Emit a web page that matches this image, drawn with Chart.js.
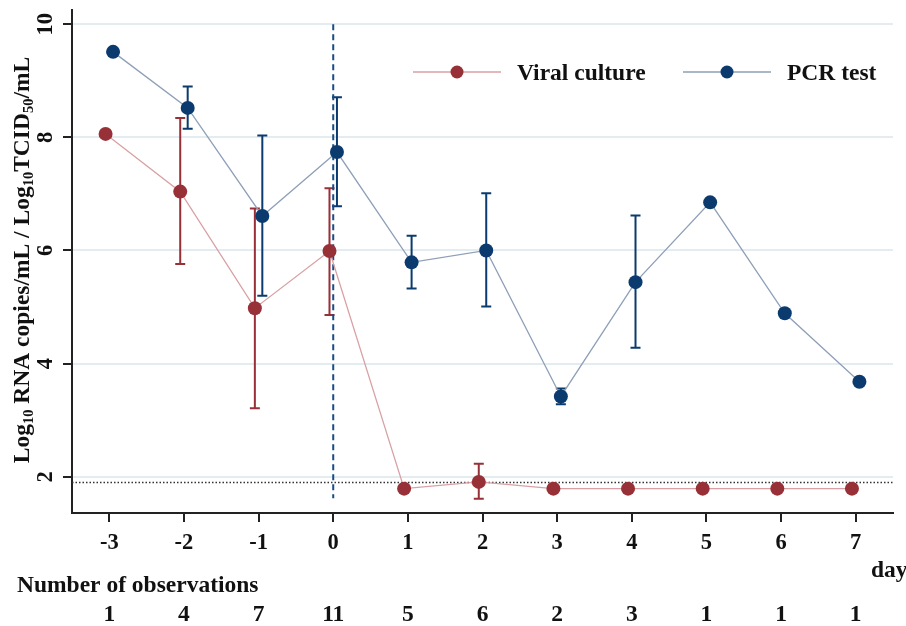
<!DOCTYPE html>
<html lang="en">
<head>
  <meta charset="UTF-8">
  <title>Viral culture vs PCR test</title>
  <style>
    *{margin:0;padding:0;box-sizing:border-box;}
    body{background:#fff;width:906px;height:626px;overflow:hidden;}
    #box{position:relative;width:906px;height:626px;}
  </style>
  <script src="https://cdn.jsdelivr.net/npm/chart.js@4.4.0/dist/chart.umd.min.js"></script>
</head>
<body>
  <div id="box"><canvas id="chart" width="906" height="626"></canvas></div>

  <script>
    // ---- data ----
    const days         = [-3, -2, -1, 0, 1, 2, 3, 4, 5, 6, 7];
    const observations = [1, 4, 7, 11, 5, 6, 2, 3, 1, 1, 1];

    const cultureMean  = [8.06, 7.04, 4.98, 5.99, 1.79, 1.91, 1.79, 1.79, 1.79, 1.79, 1.79];
    const cultureLow   = [null, 5.76, 3.21, 4.86, null, 1.61, null, null, null, null, null];
    const cultureHigh  = [null, 8.34, 6.74, 7.10, null, 2.23, null, null, null, null, null];

    const pcrMean      = [9.51, 8.52, 6.61, 7.74, 5.79, 6.00, 3.42, 5.44, 6.85, 4.89, 3.68];
    const pcrLow       = [null, 8.15, 5.20, 6.78, 5.33, 5.01, 3.28, 4.28, null, null, null];
    const pcrHigh      = [null, 8.90, 8.03, 8.71, 6.26, 7.01, 3.56, 6.62, null, null, null];

    const yTicks = [2, 4, 6, 8, 10];
    const detectionLimit = 1.9;
    const onsetLine = [10, 1.62];   // dashed line at day 0
    const jitter = 0.05;            // the two series are dodged a little around each day

    const SERIF = "'Liberation Serif','Times New Roman',serif";
    const C_RED = "#983038", C_RED_LINE = "#d8a0a4";
    const C_BLUE = "#0b3b6e", C_BLUE_LINE = "#8e9fb7";

    const pts = (vals, dx) => vals.map((v, i) => ({x: days[i] + dx, y: v}));

    // error bars, legend, rotated y labels and the observation row
    const extras = {
      id: "extras",
      beforeDatasetsDraw(chart) {
        const {ctx, scales:{x, y}} = chart;
        chart.data.datasets.forEach(ds => {
          if (!ds.errLow) return;
          ctx.save();
          ctx.strokeStyle = ds.pointBackgroundColor;
          ctx.lineWidth = 2;
          ds.data.forEach((p, i) => {
            if (ds.errLow[i] == null) return;
            const px = x.getPixelForValue(p.x);
            const y1 = y.getPixelForValue(ds.errLow[i]);
            const y2 = y.getPixelForValue(ds.errHigh[i]);
            ctx.beginPath();
            ctx.moveTo(px, y1); ctx.lineTo(px, y2);
            ctx.moveTo(px-5, y1); ctx.lineTo(px+5, y1);
            ctx.moveTo(px-5, y2); ctx.lineTo(px+5, y2);
            ctx.stroke();
          });
          ctx.restore();
        });
      },
      afterDraw(chart) {
        const {ctx, scales:{x, y}} = chart;
        ctx.save();
        ctx.fillStyle = "#111";

        // y tick labels, turned like the original
        ctx.font = "bold 22.5px " + SERIF;
        ctx.textAlign = "center";
        ctx.textBaseline = "middle";
        yTicks.forEach(v => {
          ctx.save();
          ctx.translate(46, y.getPixelForValue(v));
          ctx.rotate(-Math.PI/2);
          ctx.fillText(String(v), 0, 0);
          ctx.restore();
        });

        // y title with subscripts
        const parts = [
          ["Log", 0], ["10", 1], [" RNA copies/mL / Log", 0], ["10", 1],
          ["TCID", 0], ["50", 1], ["/mL", 0]
        ];
        const big = "bold 23.5px " + SERIF, small = "bold 14.5px " + SERIF;
        let total = 0;
        parts.forEach(([t, s]) => { ctx.font = s ? small : big; total += ctx.measureText(t).width; });
        ctx.save();
        ctx.translate(29, 260);
        ctx.rotate(-Math.PI/2);
        ctx.textAlign = "left";
        ctx.textBaseline = "alphabetic";
        let cx = -total / 2;
        parts.forEach(([t, s]) => {
          ctx.font = s ? small : big;
          ctx.fillText(t, cx, s ? 4 : 0);
          cx += ctx.measureText(t).width;
        });
        ctx.restore();

        // legend inside the plot
        const legend = [
          {label: "Viral culture", dot: C_RED, line: C_RED_LINE, x0: 413},
          {label: "PCR test", dot: C_BLUE, line: C_BLUE_LINE, x0: 683}
        ];
        legend.forEach(l => {
          ctx.strokeStyle = l.line; ctx.lineWidth = 1.3;
          ctx.beginPath(); ctx.moveTo(l.x0, 72); ctx.lineTo(l.x0 + 88, 72); ctx.stroke();
          ctx.fillStyle = l.dot;
          ctx.beginPath(); ctx.arc(l.x0 + 44, 72, 6.5, 0, Math.PI*2); ctx.fill();
          ctx.fillStyle = "#111";
          ctx.font = "bold 23.5px " + SERIF;
          ctx.textAlign = "left"; ctx.textBaseline = "alphabetic";
          ctx.fillText(l.label, l.x0 + 104, 80);
        });

        // "day", observation counts
        ctx.fillStyle = "#111";
        ctx.font = "bold 23.5px " + SERIF;
        ctx.textAlign = "left"; ctx.textBaseline = "alphabetic";
        ctx.fillText("day", 871, 577);
        ctx.fillText("Number of observations", 17, 592);
        ctx.textAlign = "center";
        observations.forEach((n, i) => ctx.fillText(String(n), x.getPixelForValue(days[i]), 621));
        ctx.restore();
      }
    };

    const ctx = document.getElementById("chart").getContext("2d");
    new Chart(ctx, {
      type: "line",
      data: {
        datasets: [
          {
            label: "PCR test",
            data: pts(pcrMean, jitter),
            errLow: pcrLow, errHigh: pcrHigh,
            borderColor: C_BLUE_LINE, borderWidth: 1.3,
            pointBackgroundColor: C_BLUE, pointBorderColor: C_BLUE,
            pointRadius: 7, pointBorderWidth: 0, tension: 0, order: 1
          },
          {
            label: "Viral culture",
            data: pts(cultureMean, -jitter),
            errLow: cultureLow, errHigh: cultureHigh,
            borderColor: C_RED_LINE, borderWidth: 1.3,
            pointBackgroundColor: C_RED, pointBorderColor: C_RED,
            pointRadius: 7, pointBorderWidth: 0, tension: 0, order: 2
          },
          {
            label: "day 0",
            data: onsetLine.map(v => ({x: 0, y: v})),
            borderColor: "#1a4b84", borderWidth: 2, borderDash: [6, 4],
            pointRadius: 0, order: 3
          },
          {
            label: "limit",
            data: [{x: -3.5, y: detectionLimit}, {x: 7.5, y: detectionLimit}],
            borderColor: "#333", borderWidth: 1.5, borderDash: [1.5, 2],
            pointRadius: 0, order: 4
          }
        ]
      },
      options: {
        responsive: false,
        animation: false,
        events: [],
        layout: { padding: {top: 10, right: 13, left: 0, bottom: 0} },
        plugins: { legend: {display: false}, tooltip: {enabled: false} },
        scales: {
          x: {
            type: "linear", min: -3.5, max: 7.5,
            afterBuildTicks: s => { s.ticks = days.map(v => ({value: v})); },
            afterFit: s => { s.height = 113; },
            border: {color: "#222", width: 2},
            grid: {drawOnChartArea: false, drawTicks: true, tickLength: 9, tickColor: "#222", lineWidth: 2},
            ticks: {color: "#111", padding: 8, font: {family: SERIF, size: 22.5, weight: "bold"}}
          },
          y: {
            min: 1.36, max: 10.25,
            afterBuildTicks: s => { s.ticks = yTicks.map(v => ({value: v})); },
            afterFit: s => { s.width = 72; },
            border: {color: "#222", width: 2},
            grid: {color: "#e3ecf0", lineWidth: 2, drawTicks: true, tickLength: 9, tickColor: "#222"},
            ticks: {display: false}
          }
        }
      },
      plugins: [extras]
    });
  </script>
</body>
</html>
